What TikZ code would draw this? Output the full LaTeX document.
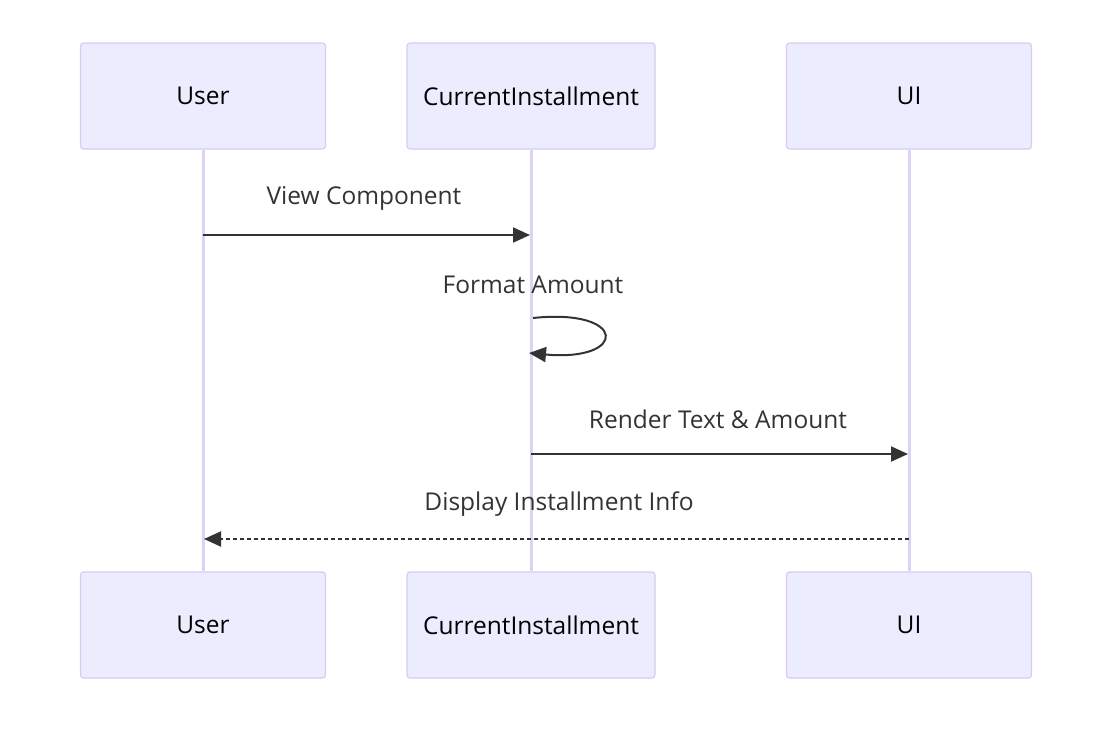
\documentclass[tikz,border=0pt]{standalone}
\usepackage{fontspec}
\setmainfont{Open Sans}
\usetikzlibrary{arrows.meta, positioning, calc}

\definecolor{actorfill}{HTML}{ECECFF}
\definecolor{actorline}{HTML}{D6CCF2}
\definecolor{lifeline}{HTML}{DCD2F5}
\definecolor{msgtext}{HTML}{333333}

\begin{document}
\begin{tikzpicture}[x=1pt, y=-1pt,
    actor/.style={rectangle, draw=actorline, fill=actorfill, line width=1.2pt, rounded corners=3pt,
      minimum width=245pt, minimum height=106pt, font=\fontsize{24.5}{29}\selectfont},
    life/.style={draw=lifeline, line width=3pt},
    msg/.style={draw=msgtext, line width=2pt, -{Triangle[length=17pt, width=15pt]}},
    label/.style={text=msgtext, font=\fontsize{24.5}{29}\selectfont}]

    \useasboundingbox (0,0) rectangle (1114,734);

    % actors, top and bottom
    \node[actor] (user) at (203,96) {User};
    \node[actor, minimum width=248pt] (inst) at (531,96) {CurrentInstallment};
    \node[actor] (ui) at (909,96) {UI};
    \node[actor] (userb) at (203,625) {User};
    \node[actor, minimum width=248pt] (instb) at (531,625) {CurrentInstallment};
    \node[actor] (uib) at (909,625) {UI};

    % lifelines
    \draw[life] (user) -- (userb);
    \draw[life] (inst) -- (instb);
    \draw[life] (ui) -- (uib);

    % message ends on the lifelines
    \coordinate (view1) at (203,235);
    \coordinate (view2) at (530,235);
    \coordinate (fmt1) at (533,318);
    \coordinate (fmt2) at (529,353);
    \coordinate (rend1) at (531,454);
    \coordinate (rend2) at (908,454);
    \coordinate (disp1) at (909,539);
    \coordinate (disp2) at (204,539);

    \draw[msg] (view1) -- (view2);
    \node[label] (viewlbl) at (364,198) {View Component};

    \draw[msg] (fmt1) .. controls (628,308) and (628,362) .. (fmt2);
    \node[label] (fmtlbl) at (533,285) {Format Amount};

    \draw[msg] (rend1) -- (rend2);
    \node[label] (rendlbl) at (718,419) {Render Text \& Amount};

    \draw[msg, dashed, dash pattern=on 4pt off 3pt] (disp1) -- (disp2);
    \node[label] (displbl) at (559,504) {Display Installment Info};
  \end{tikzpicture}
\end{document}
